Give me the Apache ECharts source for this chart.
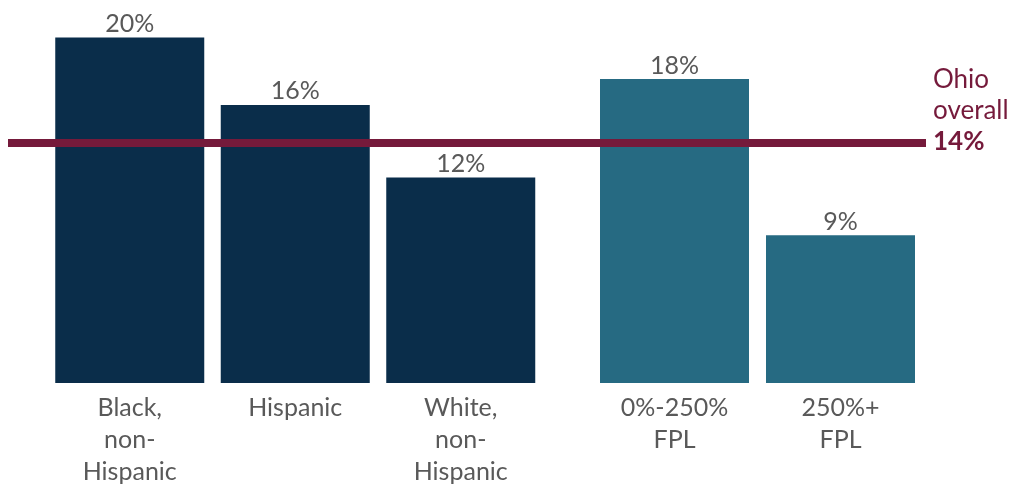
<!DOCTYPE html>
<html>
<head>
<meta charset="utf-8">
<script src="https://cdn.jsdelivr.net/npm/echarts@6/dist/echarts.min.js"></script>
<style>
  html, body { margin: 0; padding: 0; background: #fff; }
  #chart { width: 1012px; height: 484px; }
</style>
</head>
<body>
<div id="chart"></div>
<script>
// 种族/族裔组
const raceCats = ['Black,\nnon-\nHispanic', 'Hispanic', 'White,\nnon-\nHispanic'];
const raceValues = [20, 16.1, 11.9];
const raceLabels = ['20%', '16%', '12%'];
// 收入组
const incomeCats = ['0%-250%\nFPL', '250%+\nFPL'];
const incomeValues = [17.6, 8.55];
const incomeLabels = ['18%', '9%'];
// 俄亥俄州总体
const overallValue = 13.9;
const overallLabel = '14%';

const FONT = 'Lato, "Noto Sans", sans-serif';
const GRAY = '#595959';
const MAROON = '#751a3b';

const myChart = echarts.init(document.getElementById('chart'));

const yAxisBase = {
    type: 'value',
    min: 0,
    max: 22,
    show: false
};
const xCatBase = {
    type: 'category',
    axisLine: { show: false },
    axisTick: { show: false },
    axisLabel: {
        color: GRAY,
        fontFamily: FONT,
        fontSize: 25,
        lineHeight: 32,
        margin: 9,
        interval: 0
    }
};
const barLabel = (labels) => ({
    show: true,
    position: 'top',
    distance: 1,
    color: GRAY,
    fontFamily: FONT,
    fontSize: 25,
    formatter: p => labels[p.dataIndex]
});

const option = {
    animation: false,
    grid: [
        { left: 47, width: 496.5, top: 3, bottom: 101, outerBoundsMode: 'none', containLabel: false },
        { left: 591.5, width: 332, top: 3, bottom: 101, outerBoundsMode: 'none', containLabel: false },
        { left: 8, right: 86, top: 3, bottom: 101, outerBoundsMode: 'none', containLabel: false }
    ],
    xAxis: [
        Object.assign({ gridIndex: 0, data: raceCats }, xCatBase),
        Object.assign({ gridIndex: 1, data: incomeCats }, xCatBase),
        { gridIndex: 2, type: 'value', min: 0, max: 1, show: false }
    ],
    yAxis: [
        Object.assign({ gridIndex: 0 }, yAxisBase),
        Object.assign({ gridIndex: 1 }, yAxisBase),
        Object.assign({ gridIndex: 2 }, yAxisBase)
    ],
    series: [
        {
            type: 'bar',
            xAxisIndex: 0,
            yAxisIndex: 0,
            data: raceValues,
            barWidth: 149,
            itemStyle: { color: '#0a2d4a' },
            label: barLabel(raceLabels)
        },
        {
            type: 'bar',
            xAxisIndex: 1,
            yAxisIndex: 1,
            data: incomeValues,
            barWidth: 149,
            itemStyle: { color: '#266a82' },
            label: barLabel(incomeLabels)
        },
        {
            name: 'Ohio overall',
            type: 'line',
            xAxisIndex: 2,
            yAxisIndex: 2,
            data: [[0, overallValue], [1, overallValue]],
            showSymbol: false,
            silent: true,
            z: 5,
            lineStyle: { color: MAROON, width: 8, cap: 'butt' },
            endLabel: {
                show: true,
                distance: 7,
                offset: [0, -32],
                align: 'left',
                formatter: '{a|Ohio}\n{a|overall}\n{b|' + overallLabel + '}',
                rich: {
                    a: { color: MAROON, fontFamily: FONT, fontSize: 26, lineHeight: 31 },
                    b: { color: MAROON, fontFamily: FONT, fontSize: 26, fontWeight: 'bold', lineHeight: 31 }
                }
            }
        }
    ]
};
myChart.setOption(option);
</script>
</body>
</html>
